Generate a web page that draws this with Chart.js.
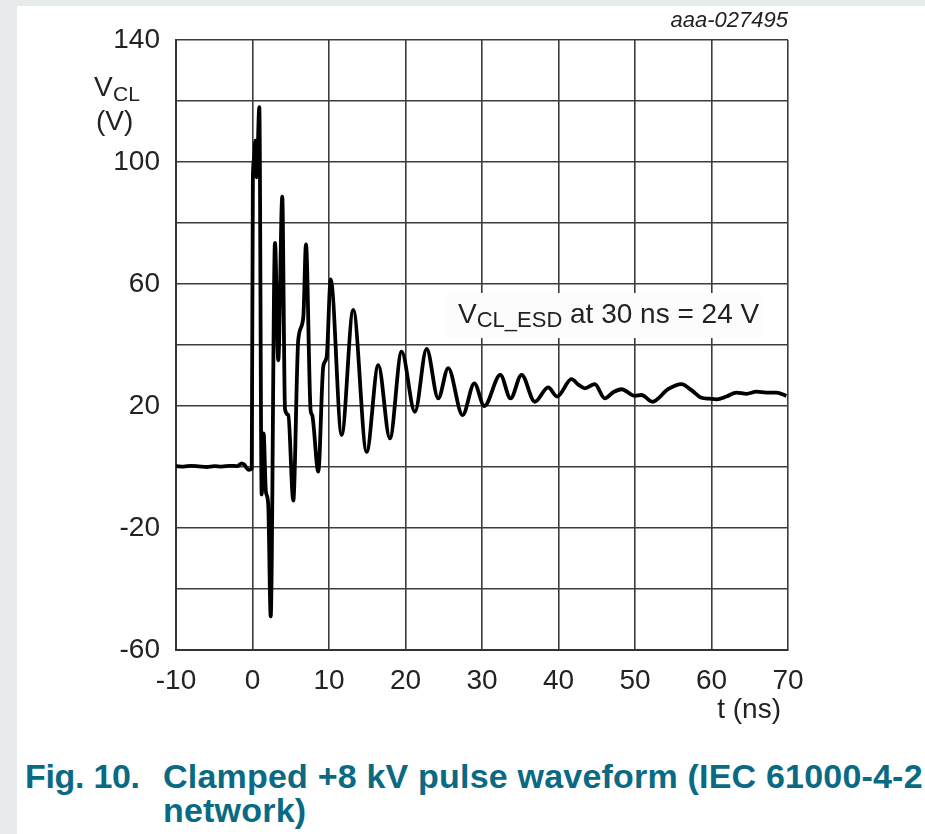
<!DOCTYPE html>
<html>
<head>
<meta charset="utf-8">
<script src="https://cdn.jsdelivr.net/npm/chart.js@4.4.1/dist/chart.umd.min.js"></script>
<style>
  html, body { margin: 0; padding: 0; }
  body { width: 925px; height: 834px; background: #e7ebec; position: relative; overflow: hidden;
         font-family: "Liberation Sans", Arial, sans-serif; }
  #panel { position: absolute; left: 17px; top: 6px; right: 0; bottom: 0; background: #fff; }
  #wrap { position: absolute; left: 0; top: 0; width: 925px; height: 740px; }
  .cap { position: absolute; color: #0a6a83; font-weight: bold; font-size: 34px; line-height: 34px; white-space: nowrap; }
</style>
</head>
<body>
<div id="panel"></div>
<div id="wrap"><canvas id="vclChart" width="925" height="740"></canvas></div>
<div class="cap" style="left:25px; top:759px; letter-spacing:-0.3px;">Fig. 10.</div>
<div class="cap" style="left:163px; top:759px; letter-spacing:0.2px;">Clamped +8 kV pulse waveform (IEC 61000-4-2<br>network)</div>

<script>
// waveform
const timeNs = [-10, -9, -8, -7, -6, -5, -4, -3, -2, -1.4, -1.1, -0.5, -0.1,
  0.05, 0.2, 0.37, 0.55, 0.89, 1.2, 1.45, 1.75, 2.05, 2.38, 2.94, 3.37, 3.89, 4.25, 4.68,
  5.33, 5.98, 6.64, 6.99, 7.6, 7.8, 8.6, 9.25, 9.69, 10.22, 11.65, 13.17, 14.92, 16.44,
  17.96, 19.49, 21.23, 22.76, 24.28, 25.58, 27.46, 29.0, 30.3, 32.4, 33.73, 35.17, 36.91,
  38.65, 39.82, 41.7, 42.6, 43.44, 44.75, 46.05, 47.2, 48.24, 49.98, 50.85, 52.29, 54.32,
  56.08, 57.38, 58.69, 59.7, 60.65, 61.95, 63.26, 64.57, 65.87, 67.18, 68.49, 69.79];
const vclVolts = [0.3, 0.1, 0.4, 0.2, 0.0, 0.3, 0.1, 0.4, 0.3, 1.2, 0.8, -0.9, -0.5,
  95, 101, 107, 95, 118, -9, 11, -8, -12, -49, 73.5, 35, 88.6, 19, 17,
  -11, 41.6, 49, 73, 18.5, 17, -1.5, 33, 36, 61.5, 10.5, 51.5, 5, 33.4,
  9.4, 37.8, 18.1, 38.7, 22.5, 32.4, 17, 27.4, 20, 30.2, 22.5, 30.2, 21.4,
  26.1, 23.1, 28.8, 27, 25.8, 27.2, 22.5, 24.6, 25.5, 23.3, 23.6, 21.4, 25.5,
  27.2, 25.2, 22.7, 22.4, 22.2, 23.1, 24.4, 24.0, 24.7, 24.4, 24.4, 23.3];

const xTicks = [-10, 0, 10, 20, 30, 40, 50, 60, 70];
const yLabelled = [140, 100, 60, 20, -20, -60];

const FONT = '"Liberation Sans", Arial, sans-serif';

const extraText = {
  id: 'extraText',
  afterDraw(chart) {
    const ctx = chart.ctx;
    const a = chart.chartArea;
    ctx.save();
    ctx.fillStyle = '#222';
    ctx.textBaseline = 'alphabetic';

    ctx.font = 'italic 22px ' + FONT;
    ctx.textAlign = 'right';
    ctx.fillText('aaa-027495', a.right, 27);

    // y axis title V_CL (V)
    ctx.textAlign = 'left';
    ctx.font = '28px ' + FONT;
    ctx.fillText('V', 94, 96);
    ctx.font = '21px ' + FONT;
    ctx.fillText('CL', 113, 101);
    ctx.font = '28px ' + FONT;
    ctx.fillText('(V)', 96, 130);

    // x axis title
    ctx.textAlign = 'right';
    ctx.fillText('t (ns)', 781, 718);

    // annotation box
    ctx.fillStyle = '#fcfcfd';
    ctx.fillRect(446, 293, 316, 45);
    ctx.fillStyle = '#222';
    ctx.textAlign = 'left';
    let x = 458;
    ctx.font = '28px ' + FONT;
    ctx.fillText('V', x, 323);
    x += ctx.measureText('V').width;
    ctx.font = '22px ' + FONT;
    ctx.fillText('CL_ESD', x, 327);
    x += ctx.measureText('CL_ESD').width;
    ctx.font = '28px ' + FONT;
    ctx.fillText(' at 30 ns = 24 V', x, 323);
    ctx.restore();
  }
};

const ctx = document.getElementById('vclChart').getContext('2d');
new Chart(ctx, {
  type: 'line',
  data: {
    datasets: [{
      data: timeNs.map((t, i) => ({ x: t, y: vclVolts[i] })),
      borderColor: '#000',
      borderWidth: 3.8,
      pointRadius: 0,
      cubicInterpolationMode: 'monotone',
      fill: false
    }]
  },
  options: {
    responsive: false,
    animation: false,
    layout: { padding: { left: 0, right: 137, top: 40, bottom: 40 } },
    plugins: { legend: { display: false }, tooltip: { enabled: false } },
    scales: {
      x: {
        type: 'linear',
        min: -10, max: 70,
        afterFit(scale) { scale.height = 50; },
        afterBuildTicks(scale) { scale.ticks = xTicks.map(v => ({ value: v })); },
        grid: { color: '#3c3c3c', lineWidth: 1.6, drawTicks: false },
        border: { color: '#333', width: 2 },
        ticks: { color: '#222', padding: 14, maxRotation: 0, font: { family: FONT, size: 28 } }
      },
      y: {
        min: -60, max: 140,
        afterFit(scale) { scale.width = 176; },
        grid: { color: '#3c3c3c', lineWidth: 1.6, drawTicks: false },
        border: { color: '#333', width: 2 },
        ticks: {
          stepSize: 20,
          color: '#222',
          padding: 16,
          font: { family: FONT, size: 28 },
          callback: v => yLabelled.includes(v) ? String(v) : ''
        }
      }
    }
  },
  plugins: [extraText]
});
</script>
</body>
</html>
